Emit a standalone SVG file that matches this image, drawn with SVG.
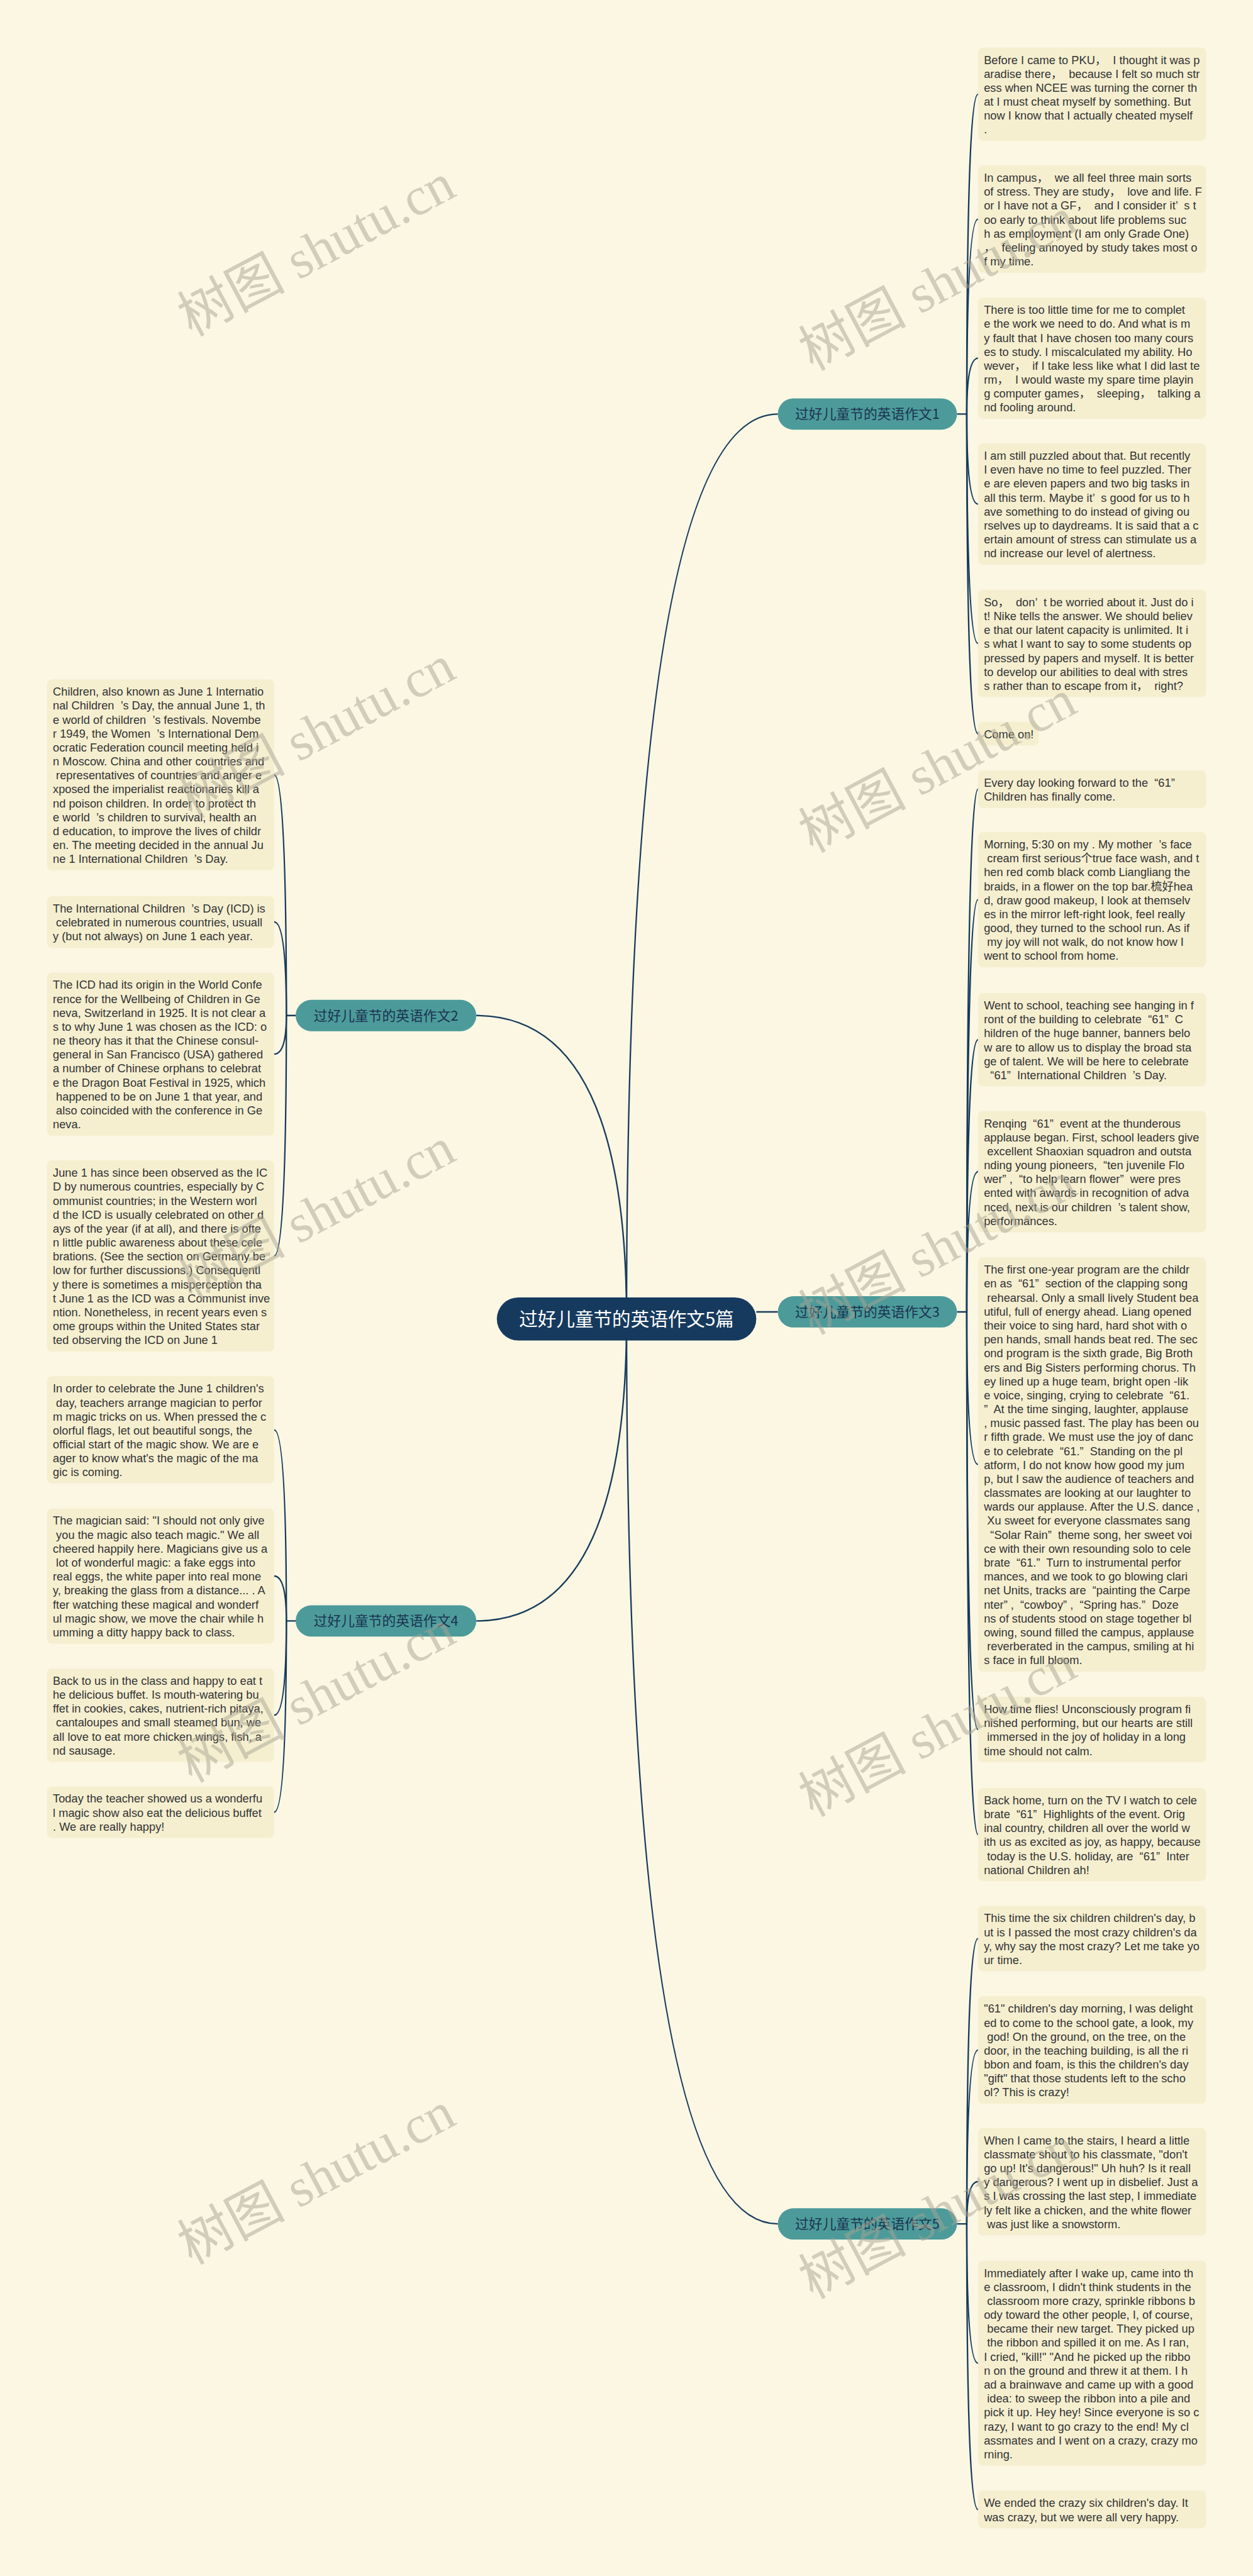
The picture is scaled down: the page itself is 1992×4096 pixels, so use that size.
<svg xmlns="http://www.w3.org/2000/svg" width="1992" height="4096" viewBox="0 0 1992 4096" xml:space="preserve">
<style>
.bg{fill:#fbf7e3}
.leaf{fill:#f5efd0}
.lt{font-family:"Liberation Sans","Noto Sans CJK SC",sans-serif;font-size:23.5px;fill:#333333;white-space:pre}
.br{fill:#4c9b9a}
.bt{font-family:"Noto Sans CJK SC","Liberation Sans",sans-serif;font-size:28px;fill:#1b3350;text-anchor:middle}
.rt{font-family:"Noto Sans CJK SC","Liberation Sans",sans-serif;font-size:38px;fill:#ffffff;text-anchor:middle}
.c{fill:none;stroke:#173b5c;stroke-width:3}
.wm{font-family:"Liberation Serif","Noto Sans CJK SC",serif;font-size:110px;fill:#a9a493;opacity:0.5;text-anchor:middle}
</style>
<rect class="bg" x="0" y="0" width="1992" height="4096"/>
<g transform="scale(0.7782)">
<g id="connectors">
<path class="c" d="M1280 2695 Q1280 846 1589 846"/>
<path class="c" d="M1280 2695 Q1280 4544 1589 4544"/>
<path class="c" d="M1280 2695 Q1280 2075 973 2075"/>
<path class="c" d="M1280 2695 Q1280 3312 973 3312"/>
<path class="c" d="M1545 2680.5 L1589 2680.5"/>
<path class="c" d="M1955 846 L1975 846 Q1975 192.5 1998 192.5"/>
<path class="c" d="M1975 846 Q1975 447.75 1998 447.75"/>
<path class="c" d="M1975 846 Q1975 732 1998 732"/>
<path class="c" d="M1975 846 Q1975 1030 1998 1030"/>
<path class="c" d="M1975 846 Q1975 1314.75 1998 1314.75"/>
<path class="c" d="M1975 846 Q1975 1499.25 1998 1499.25"/>
<path class="c" d="M1955 2680.5 L1975 2680.5 Q1975 1612.5 1998 1612.5"/>
<path class="c" d="M1975 2680.5 Q1975 1838.25 1998 1838.25"/>
<path class="c" d="M1975 2680.5 Q1975 2124.5 1998 2124.5"/>
<path class="c" d="M1975 2680.5 Q1975 2394 1998 2394"/>
<path class="c" d="M1975 2680.5 Q1975 2992.25 1998 2992.25"/>
<path class="c" d="M1975 2680.5 Q1975 3534 1998 3534"/>
<path class="c" d="M1975 2680.5 Q1975 3748.5 1998 3748.5"/>
<path class="c" d="M1955 4544 L1975 4544 Q1975 3961 1998 3961"/>
<path class="c" d="M1975 4544 Q1975 4188.75 1998 4188.75"/>
<path class="c" d="M1975 4544 Q1975 4457.75 1998 4457.75"/>
<path class="c" d="M1975 4544 Q1975 4828.5 1998 4828.5"/>
<path class="c" d="M1975 4544 Q1975 5127.5 1998 5127.5"/>
<path class="c" d="M604 2075 L585 2075 Q585 1583.25 560 1583.25"/>
<path class="c" d="M585 2075 Q585 1883.75 560 1883.75"/>
<path class="c" d="M585 2075 Q585 2153.75 560 2153.75"/>
<path class="c" d="M585 2075 Q585 2566.25 560 2566.25"/>
<path class="c" d="M604 3312 L585 3312 Q585 2921.75 560 2921.75"/>
<path class="c" d="M585 3312 Q585 3220.25 560 3220.25"/>
<path class="c" d="M585 3312 Q585 3504.5 560 3504.5"/>
<path class="c" d="M585 3312 Q585 3702.75 560 3702.75"/>
</g>
<g id="root"><rect x="1015" y="2651" width="530" height="88" rx="44" fill="#163a5e"/><text class="rt" x="1280" y="2709">过好儿童节的英语作文5篇</text></g>
<g id="b1"><rect class="br" x="1589" y="814" width="366" height="64" rx="32"/><text class="bt" x="1772" y="856">过好儿童节的英语作文1</text></g>
<g id="b2"><rect class="br" x="604" y="2043" width="369" height="64" rx="32"/><text class="bt" x="788.5" y="2085">过好儿童节的英语作文2</text></g>
<g id="b3"><rect class="br" x="1589" y="2648.5" width="366" height="64" rx="32"/><text class="bt" x="1772" y="2690.5">过好儿童节的英语作文3</text></g>
<g id="b4"><rect class="br" x="604" y="3280" width="369" height="64" rx="32"/><text class="bt" x="788.5" y="3322">过好儿童节的英语作文4</text></g>
<g id="b5"><rect class="br" x="1589" y="4512" width="366" height="64" rx="32"/><text class="bt" x="1772" y="4554">过好儿童节的英语作文5</text></g>
<g id="r1"><rect class="leaf" x="1998" y="97" width="466" height="191" rx="10"/><text class="lt"><tspan x="2010" y="130.5">Before I came to PKU，  I thought it was p</tspan><tspan x="2010" dy="28.5">aradise there，  because I felt so much str</tspan><tspan x="2010" dy="28.5">ess when NCEE was turning the corner th</tspan><tspan x="2010" dy="28.5">at I must cheat myself by something. But</tspan><tspan x="2010" dy="28.5">now I know that I actually cheated myself</tspan><tspan x="2010" dy="28.5">.</tspan></text></g>
<g id="r2"><rect class="leaf" x="1998" y="338" width="466" height="219.5" rx="10"/><text class="lt"><tspan x="2010" y="371.5">In campus，  we all feel three main sorts</tspan><tspan x="2010" dy="28.5">of stress. They are study，  love and life. F</tspan><tspan x="2010" dy="28.5">or I have not a GF，  and I consider it’  s t</tspan><tspan x="2010" dy="28.5">oo early to think about life problems suc</tspan><tspan x="2010" dy="28.5">h as employment (I am only Grade One)</tspan><tspan x="2010" dy="28.5">，  feeling annoyed by study takes most o</tspan><tspan x="2010" dy="28.5">f my time.</tspan></text></g>
<g id="r3"><rect class="leaf" x="1998" y="608" width="466" height="248" rx="10"/><text class="lt"><tspan x="2010" y="641.5">There is too little time for me to complet</tspan><tspan x="2010" dy="28.5">e the work we need to do. And what is m</tspan><tspan x="2010" dy="28.5">y fault that I have chosen too many cours</tspan><tspan x="2010" dy="28.5">es to study. I miscalculated my ability. Ho</tspan><tspan x="2010" dy="28.5">wever，  if I take less like what I did last te</tspan><tspan x="2010" dy="28.5">rm，  I would waste my spare time playin</tspan><tspan x="2010" dy="28.5">g computer games，  sleeping，  talking a</tspan><tspan x="2010" dy="28.5">nd fooling around.</tspan></text></g>
<g id="r4"><rect class="leaf" x="1998" y="906" width="466" height="248" rx="10"/><text class="lt"><tspan x="2010" y="939.5">I am still puzzled about that. But recently</tspan><tspan x="2010" dy="28.5">I even have no time to feel puzzled. Ther</tspan><tspan x="2010" dy="28.5">e are eleven papers and two big tasks in</tspan><tspan x="2010" dy="28.5">all this term. Maybe it’  s good for us to h</tspan><tspan x="2010" dy="28.5">ave something to do instead of giving ou</tspan><tspan x="2010" dy="28.5">rselves up to daydreams. It is said that a c</tspan><tspan x="2010" dy="28.5">ertain amount of stress can stimulate us a</tspan><tspan x="2010" dy="28.5">nd increase our level of alertness.</tspan></text></g>
<g id="r5"><rect class="leaf" x="1998" y="1205" width="466" height="219.5" rx="10"/><text class="lt"><tspan x="2010" y="1238.5">So，  don’  t be worried about it. Just do i</tspan><tspan x="2010" dy="28.5">t! Nike tells the answer. We should believ</tspan><tspan x="2010" dy="28.5">e that our latent capacity is unlimited. It i</tspan><tspan x="2010" dy="28.5">s what I want to say to some students op</tspan><tspan x="2010" dy="28.5">pressed by papers and myself. It is better</tspan><tspan x="2010" dy="28.5">to develop our abilities to deal with stres</tspan><tspan x="2010" dy="28.5">s rather than to escape from it，  right?</tspan></text></g>
<g id="r6"><rect class="leaf" x="1998" y="1475" width="124" height="48.5" rx="10"/><text class="lt" x="2010" y="1508.5">Come on!</text></g>
<g id="r7"><rect class="leaf" x="1998" y="1574" width="466" height="77" rx="10"/><text class="lt"><tspan x="2010" y="1607.5">Every day looking forward to the  “61”</tspan><tspan x="2010" dy="28.5">Children has finally come.</tspan></text></g>
<g id="r8"><rect class="leaf" x="1998" y="1700" width="466" height="276.5" rx="10"/><text class="lt"><tspan x="2010" y="1733.5">Morning, 5:30 on my . My mother  ’s face</tspan><tspan x="2010" dy="28.5"> cream first serious个true face wash, and t</tspan><tspan x="2010" dy="28.5">hen red comb black comb Liangliang the</tspan><tspan x="2010" dy="28.5">braids, in a flower on the top bar.梳好hea</tspan><tspan x="2010" dy="28.5">d, draw good makeup, I look at themselv</tspan><tspan x="2010" dy="28.5">es in the mirror left-right look, feel really</tspan><tspan x="2010" dy="28.5">good, they turned to the school run. As if</tspan><tspan x="2010" dy="28.5"> my joy will not walk, do not know how I</tspan><tspan x="2010" dy="28.5">went to school from home.</tspan></text></g>
<g id="r9"><rect class="leaf" x="1998" y="2029" width="466" height="191" rx="10"/><text class="lt"><tspan x="2010" y="2062.5">Went to school, teaching see hanging in f</tspan><tspan x="2010" dy="28.5">ront of the building to celebrate  “61”  C</tspan><tspan x="2010" dy="28.5">hildren of the huge banner, banners belo</tspan><tspan x="2010" dy="28.5">w are to allow us to display the broad sta</tspan><tspan x="2010" dy="28.5">ge of talent. We will be here to celebrate</tspan><tspan x="2010" dy="28.5">  “61”  International Children  ’s Day.</tspan></text></g>
<g id="r10"><rect class="leaf" x="1998" y="2270" width="466" height="248" rx="10"/><text class="lt"><tspan x="2010" y="2303.5">Renqing  “61”  event at the thunderous</tspan><tspan x="2010" dy="28.5">applause began. First, school leaders give</tspan><tspan x="2010" dy="28.5"> excellent Shaoxian squadron and outsta</tspan><tspan x="2010" dy="28.5">nding young pioneers,  “ten juvenile Flo</tspan><tspan x="2010" dy="28.5">wer” ,  “to help learn flower”  were pres</tspan><tspan x="2010" dy="28.5">ented with awards in recognition of adva</tspan><tspan x="2010" dy="28.5">nced, next is our children  ’s talent show,</tspan><tspan x="2010" dy="28.5">performances.</tspan></text></g>
<g id="r11"><rect class="leaf" x="1998" y="2569" width="466" height="846.5" rx="10"/><text class="lt"><tspan x="2010" y="2602.5">The first one-year program are the childr</tspan><tspan x="2010" dy="28.5">en as  “61”  section of the clapping song</tspan><tspan x="2010" dy="28.5"> rehearsal. Only a small lively Student bea</tspan><tspan x="2010" dy="28.5">utiful, full of energy ahead. Liang opened</tspan><tspan x="2010" dy="28.5">their voice to sing hard, hard shot with o</tspan><tspan x="2010" dy="28.5">pen hands, small hands beat red. The sec</tspan><tspan x="2010" dy="28.5">ond program is the sixth grade, Big Broth</tspan><tspan x="2010" dy="28.5">ers and Big Sisters performing chorus. Th</tspan><tspan x="2010" dy="28.5">ey lined up a huge team, bright open -lik</tspan><tspan x="2010" dy="28.5">e voice, singing, crying to celebrate  “61.</tspan><tspan x="2010" dy="28.5">”  At the time singing, laughter, applause</tspan><tspan x="2010" dy="28.5">, music passed fast. The play has been ou</tspan><tspan x="2010" dy="28.5">r fifth grade. We must use the joy of danc</tspan><tspan x="2010" dy="28.5">e to celebrate  “61.”  Standing on the pl</tspan><tspan x="2010" dy="28.5">atform, I do not know how good my jum</tspan><tspan x="2010" dy="28.5">p, but I saw the audience of teachers and</tspan><tspan x="2010" dy="28.5">classmates are looking at our laughter to</tspan><tspan x="2010" dy="28.5">wards our applause. After the U.S. dance ,</tspan><tspan x="2010" dy="28.5"> Xu sweet for everyone classmates sang</tspan><tspan x="2010" dy="28.5">  “Solar Rain”  theme song, her sweet voi</tspan><tspan x="2010" dy="28.5">ce with their own resounding solo to cele</tspan><tspan x="2010" dy="28.5">brate  “61.”  Turn to instrumental perfor</tspan><tspan x="2010" dy="28.5">mances, and we took to go blowing clari</tspan><tspan x="2010" dy="28.5">net Units, tracks are  “painting the Carpe</tspan><tspan x="2010" dy="28.5">nter” ,  “cowboy” ,  “Spring has.”  Doze</tspan><tspan x="2010" dy="28.5">ns of students stood on stage together bl</tspan><tspan x="2010" dy="28.5">owing, sound filled the campus, applause</tspan><tspan x="2010" dy="28.5"> reverberated in the campus, smiling at hi</tspan><tspan x="2010" dy="28.5">s face in full bloom.</tspan></text></g>
<g id="r12"><rect class="leaf" x="1998" y="3467" width="466" height="134" rx="10"/><text class="lt"><tspan x="2010" y="3500.5">How time flies! Unconsciously program fi</tspan><tspan x="2010" dy="28.5">nished performing, but our hearts are still</tspan><tspan x="2010" dy="28.5"> immersed in the joy of holiday in a long</tspan><tspan x="2010" dy="28.5">time should not calm.</tspan></text></g>
<g id="r13"><rect class="leaf" x="1998" y="3653" width="466" height="191" rx="10"/><text class="lt"><tspan x="2010" y="3686.5">Back home, turn on the TV I watch to cele</tspan><tspan x="2010" dy="28.5">brate  “61”  Highlights of the event. Orig</tspan><tspan x="2010" dy="28.5">inal country, children all over the world w</tspan><tspan x="2010" dy="28.5">ith us as excited as joy, as happy, because</tspan><tspan x="2010" dy="28.5"> today is the U.S. holiday, are  “61”  Inter</tspan><tspan x="2010" dy="28.5">national Children ah!</tspan></text></g>
<g id="r14"><rect class="leaf" x="1998" y="3894" width="466" height="134" rx="10"/><text class="lt"><tspan x="2010" y="3927.5">This time the six children children's day, b</tspan><tspan x="2010" dy="28.5">ut is I passed the most crazy children's da</tspan><tspan x="2010" dy="28.5">y, why say the most crazy? Let me take yo</tspan><tspan x="2010" dy="28.5">ur time.</tspan></text></g>
<g id="r15"><rect class="leaf" x="1998" y="4079" width="466" height="219.5" rx="10"/><text class="lt"><tspan x="2010" y="4112.5">"61" children's day morning, I was delight</tspan><tspan x="2010" dy="28.5">ed to come to the school gate, a look, my</tspan><tspan x="2010" dy="28.5"> god! On the ground, on the tree, on the</tspan><tspan x="2010" dy="28.5">door, in the teaching building, is all the ri</tspan><tspan x="2010" dy="28.5">bbon and foam, is this the children's day</tspan><tspan x="2010" dy="28.5">"gift" that those students left to the scho</tspan><tspan x="2010" dy="28.5">ol? This is crazy!</tspan></text></g>
<g id="r16"><rect class="leaf" x="1998" y="4348" width="466" height="219.5" rx="10"/><text class="lt"><tspan x="2010" y="4381.5">When I came to the stairs, I heard a little</tspan><tspan x="2010" dy="28.5">classmate shout to his classmate, "don't</tspan><tspan x="2010" dy="28.5">go up! It's dangerous!" Uh huh? Is it reall</tspan><tspan x="2010" dy="28.5">y dangerous? I went up in disbelief. Just a</tspan><tspan x="2010" dy="28.5">s I was crossing the last step, I immediate</tspan><tspan x="2010" dy="28.5">ly felt like a chicken, and the white flower</tspan><tspan x="2010" dy="28.5"> was just like a snowstorm.</tspan></text></g>
<g id="r17"><rect class="leaf" x="1998" y="4619" width="466" height="419" rx="10"/><text class="lt"><tspan x="2010" y="4652.5">Immediately after I wake up, came into th</tspan><tspan x="2010" dy="28.5">e classroom, I didn't think students in the</tspan><tspan x="2010" dy="28.5"> classroom more crazy, sprinkle ribbons b</tspan><tspan x="2010" dy="28.5">ody toward the other people, I, of course,</tspan><tspan x="2010" dy="28.5"> became their new target. They picked up</tspan><tspan x="2010" dy="28.5"> the ribbon and spilled it on me. As I ran,</tspan><tspan x="2010" dy="28.5">I cried, "kill!" "And he picked up the ribbo</tspan><tspan x="2010" dy="28.5">n on the ground and threw it at them. I h</tspan><tspan x="2010" dy="28.5">ad a brainwave and came up with a good</tspan><tspan x="2010" dy="28.5"> idea: to sweep the ribbon into a pile and</tspan><tspan x="2010" dy="28.5">pick it up. Hey hey! Since everyone is so c</tspan><tspan x="2010" dy="28.5">razy, I want to go crazy to the end! My cl</tspan><tspan x="2010" dy="28.5">assmates and I went on a crazy, crazy mo</tspan><tspan x="2010" dy="28.5">rning.</tspan></text></g>
<g id="r18"><rect class="leaf" x="1998" y="5089" width="466" height="77" rx="10"/><text class="lt"><tspan x="2010" y="5122.5">We ended the crazy six children's day. It</tspan><tspan x="2010" dy="28.5">was crazy, but we were all very happy.</tspan></text></g>
<g id="l1"><rect class="leaf" x="96" y="1388" width="464" height="390.5" rx="10"/><text class="lt"><tspan x="108" y="1421.5">Children, also known as June 1 Internatio</tspan><tspan x="108" dy="28.5">nal Children  ’s Day, the annual June 1, th</tspan><tspan x="108" dy="28.5">e world of children  ’s festivals. Novembe</tspan><tspan x="108" dy="28.5">r 1949, the Women  ’s International Dem</tspan><tspan x="108" dy="28.5">ocratic Federation council meeting held i</tspan><tspan x="108" dy="28.5">n Moscow. China and other countries and</tspan><tspan x="108" dy="28.5"> representatives of countries and anger e</tspan><tspan x="108" dy="28.5">xposed the imperialist reactionaries kill a</tspan><tspan x="108" dy="28.5">nd poison children. In order to protect th</tspan><tspan x="108" dy="28.5">e world  ’s children to survival, health an</tspan><tspan x="108" dy="28.5">d education, to improve the lives of childr</tspan><tspan x="108" dy="28.5">en. The meeting decided in the annual Ju</tspan><tspan x="108" dy="28.5">ne 1 International Children  ’s Day.</tspan></text></g>
<g id="l2"><rect class="leaf" x="96" y="1831" width="464" height="105.5" rx="10"/><text class="lt"><tspan x="108" y="1864.5">The International Children  ’s Day (ICD) is</tspan><tspan x="108" dy="28.5"> celebrated in numerous countries, usuall</tspan><tspan x="108" dy="28.5">y (but not always) on June 1 each year.</tspan></text></g>
<g id="l3"><rect class="leaf" x="96" y="1987" width="464" height="333.5" rx="10"/><text class="lt"><tspan x="108" y="2020.5">The ICD had its origin in the World Confe</tspan><tspan x="108" dy="28.5">rence for the Wellbeing of Children in Ge</tspan><tspan x="108" dy="28.5">neva, Switzerland in 1925. It is not clear a</tspan><tspan x="108" dy="28.5">s to why June 1 was chosen as the ICD: o</tspan><tspan x="108" dy="28.5">ne theory has it that the Chinese consul-</tspan><tspan x="108" dy="28.5">general in San Francisco (USA) gathered</tspan><tspan x="108" dy="28.5">a number of Chinese orphans to celebrat</tspan><tspan x="108" dy="28.5">e the Dragon Boat Festival in 1925, which</tspan><tspan x="108" dy="28.5"> happened to be on June 1 that year, and</tspan><tspan x="108" dy="28.5"> also coincided with the conference in Ge</tspan><tspan x="108" dy="28.5">neva.</tspan></text></g>
<g id="l4"><rect class="leaf" x="96" y="2371" width="464" height="390.5" rx="10"/><text class="lt"><tspan x="108" y="2404.5">June 1 has since been observed as the IC</tspan><tspan x="108" dy="28.5">D by numerous countries, especially by C</tspan><tspan x="108" dy="28.5">ommunist countries; in the Western worl</tspan><tspan x="108" dy="28.5">d the ICD is usually celebrated on other d</tspan><tspan x="108" dy="28.5">ays of the year (if at all), and there is ofte</tspan><tspan x="108" dy="28.5">n little public awareness about these cele</tspan><tspan x="108" dy="28.5">brations. (See the section on Germany be</tspan><tspan x="108" dy="28.5">low for further discussions.) Consequentl</tspan><tspan x="108" dy="28.5">y there is sometimes a misperception tha</tspan><tspan x="108" dy="28.5">t June 1 as the ICD was a Communist inve</tspan><tspan x="108" dy="28.5">ntion. Nonetheless, in recent years even s</tspan><tspan x="108" dy="28.5">ome groups within the United States star</tspan><tspan x="108" dy="28.5">ted observing the ICD on June 1</tspan></text></g>
<g id="l5"><rect class="leaf" x="96" y="2812" width="464" height="219.5" rx="10"/><text class="lt"><tspan x="108" y="2845.5">In order to celebrate the June 1 children's</tspan><tspan x="108" dy="28.5"> day, teachers arrange magician to perfor</tspan><tspan x="108" dy="28.5">m magic tricks on us. When pressed the c</tspan><tspan x="108" dy="28.5">olorful flags, let out beautiful songs, the</tspan><tspan x="108" dy="28.5">official start of the magic show. We are e</tspan><tspan x="108" dy="28.5">ager to know what's the magic of the ma</tspan><tspan x="108" dy="28.5">gic is coming.</tspan></text></g>
<g id="l6"><rect class="leaf" x="96" y="3082" width="464" height="276.5" rx="10"/><text class="lt"><tspan x="108" y="3115.5">The magician said: "I should not only give</tspan><tspan x="108" dy="28.5"> you the magic also teach magic." We all</tspan><tspan x="108" dy="28.5">cheered happily here. Magicians give us a</tspan><tspan x="108" dy="28.5"> lot of wonderful magic: a fake eggs into</tspan><tspan x="108" dy="28.5">real eggs, the white paper into real mone</tspan><tspan x="108" dy="28.5">y, breaking the glass from a distance... . A</tspan><tspan x="108" dy="28.5">fter watching these magical and wonderf</tspan><tspan x="108" dy="28.5">ul magic show, we move the chair while h</tspan><tspan x="108" dy="28.5">umming a ditty happy back to class.</tspan></text></g>
<g id="l7"><rect class="leaf" x="96" y="3409" width="464" height="191" rx="10"/><text class="lt"><tspan x="108" y="3442.5">Back to us in the class and happy to eat t</tspan><tspan x="108" dy="28.5">he delicious buffet. Is mouth-watering bu</tspan><tspan x="108" dy="28.5">ffet in cookies, cakes, nutrient-rich pitaya,</tspan><tspan x="108" dy="28.5"> cantaloupes and small steamed bun, we</tspan><tspan x="108" dy="28.5">all love to eat more chicken wings, fish, a</tspan><tspan x="108" dy="28.5">nd sausage.</tspan></text></g>
<g id="l8"><rect class="leaf" x="96" y="3650" width="464" height="105.5" rx="10"/><text class="lt"><tspan x="108" y="3683.5">Today the teacher showed us a wonderfu</tspan><tspan x="108" dy="28.5">l magic show also eat the delicious buffet</tspan><tspan x="108" dy="28.5">. We are really happy!</tspan></text></g>
<g id="watermarks">
<text class="wm" transform="rotate(-28 646 510)" x="646" y="548">树图 shutu.cn</text>
<text class="wm" transform="rotate(-28 646 1495)" x="646" y="1533">树图 shutu.cn</text>
<text class="wm" transform="rotate(-28 646 2480)" x="646" y="2518">树图 shutu.cn</text>
<text class="wm" transform="rotate(-28 646 3465)" x="646" y="3503">树图 shutu.cn</text>
<text class="wm" transform="rotate(-28 646 4450)" x="646" y="4488">树图 shutu.cn</text>
<text class="wm" transform="rotate(-28 1915 580)" x="1915" y="618">树图 shutu.cn</text>
<text class="wm" transform="rotate(-28 1915 1565)" x="1915" y="1603">树图 shutu.cn</text>
<text class="wm" transform="rotate(-28 1915 2550)" x="1915" y="2588">树图 shutu.cn</text>
<text class="wm" transform="rotate(-28 1915 3535)" x="1915" y="3573">树图 shutu.cn</text>
<text class="wm" transform="rotate(-28 1915 4520)" x="1915" y="4558">树图 shutu.cn</text>
</g>
</g>
</svg>
